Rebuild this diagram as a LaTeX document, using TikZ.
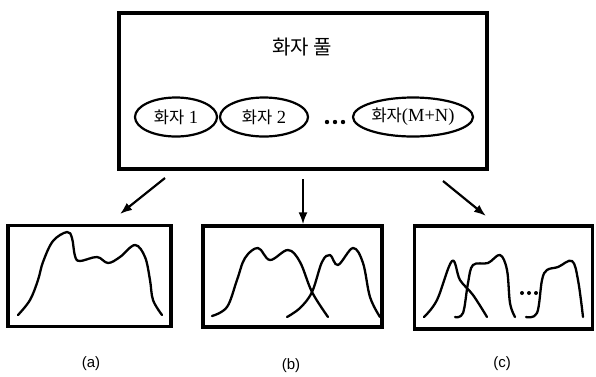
\documentclass[tikz,border=0pt]{standalone}
\usepackage{fontspec}
\setmainfont{Liberation Serif}
\newfontfamily\cjk{Noto Sans CJK KR}
\newfontfamily\lblfont{Liberation Sans}
\newcommand\hwaja{{\cjk\fontsize{16.5}{18}\selectfont 화자}}
\usetikzlibrary{arrows.meta,shapes.geometric}
\begin{document}
\begin{tikzpicture}[x={(1pt,0)},y={(0,-1pt)},
  bigbox/.style={draw,line width=3.2pt,rectangle,inner sep=0pt},
  spk/.style={draw,line width=2.2pt,ellipse,inner sep=0pt,minimum height=39pt,font=\fontsize{18.5}{20}\selectfont},
  conn/.style={line width=2.2pt,-{Latex[length=12pt,width=9pt]}},
  curve/.style={line width=2.3pt,line cap=round,line join=round},
  lbl/.style={font=\lblfont\fontsize{15}{17}\selectfont},
  dotc/.style={fill=black}]
\useasboundingbox (0,0) rectangle (596,376);
% top pool box
\node[bigbox,minimum width=368pt,minimum height=156pt] (pool) at (303,91) {};
\node[font=\cjk\fontsize{20}{22}\selectfont] (title) at (302,47) {화자 풀};
\node[spk,minimum width=82pt] (s1) at (176,117) {\hwaja\ 1};
\node[spk,minimum width=88pt] (s2) at (264,117) {\hwaja\ 2};
\node[spk,minimum width=120pt] (s3) at (413,117) {\hwaja(M+N)};
\foreach \xx in {327,335,343} \fill[dotc] (\xx,122) circle (2.2pt);
% bottom boxes
\node[bigbox,minimum width=163pt,minimum height=101pt] (ba) at (89.5,276) {};
\node[bigbox,minimum width=179pt,minimum height=101pt] (bb) at (292.5,276.5) {};
\node[bigbox,minimum width=178pt,minimum height=103pt] (bc) at (503.5,277.5) {};
% arrows
\coordinate (a1) at (165,178);
\coordinate (a2) at (120,214);
\coordinate (b1) at (303,179);
\coordinate (c1) at (443,181);
\coordinate (c2) at (486,216);
\draw[conn] (a1) -- (a2);
\draw[conn] (b1) -- (bb.north -| b1);
\draw[conn] (c1) -- (c2);
% labels
\node[lbl] (la) at (91,364) {(a)};
\node[lbl] (lb) at (291,366) {(b)};
\node[lbl] (lc) at (502,364) {(c)};
% curves box a
\draw[curve] plot[smooth,tension=0.6] coordinates {(18,315) (30,300) (38,280) (43,262) (53,241) (67,232) (72,238) (75,256) (80,261) (97,257) (108,263) (120,257) (135,245) (145,257) (150,280) (153,300) (162,315)};
% curves box b
\draw[curve] plot[smooth,tension=0.6] coordinates {(212,316) (227,307) (237,280) (245,258) (258,248) (270,260) (288,250) (300,262) (312,292) (328,317)};
\draw[curve] plot[smooth,tension=0.6] coordinates {(287,317) (300,308) (312,292) (322,262) (330,255) (338,265) (353,248) (363,263) (370,297) (380,317)};
% curves box c
\draw[curve] plot[smooth,tension=0.6] coordinates {(424,317) (437,300) (452,261) (460,280) (473,295) (487,317)};
\draw[curve] plot[smooth,tension=0.6] coordinates {(455,317) (463,313) (468,283) (473,265) (488,263) (500,255) (507,270) (510,303) (515,317)};
\draw[curve] plot[smooth,tension=0.6] coordinates {(526,317) (537,313) (542,280) (547,270) (558,267) (572,261) (578,280) (583,317)};
\foreach \xx in {522,529,536} \fill[dotc] (\xx,293) circle (2pt);
\end{tikzpicture}
\end{document}
